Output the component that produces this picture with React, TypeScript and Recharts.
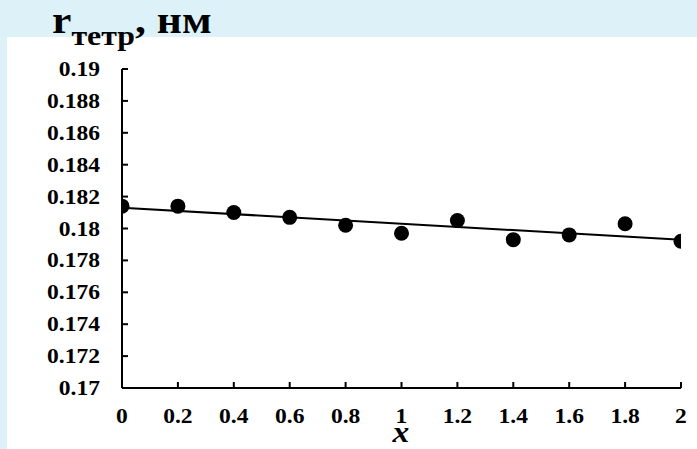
import React from 'react'
import { ComposedChart, Scatter, XAxis, YAxis, ReferenceLine } from 'recharts'

// composition x and tetrahedral radius (nm)
const xValues = [0, 0.2, 0.4, 0.6, 0.8, 1.0, 1.2, 1.4, 1.6, 1.8, 2.0]
const rTetr = [0.1814, 0.1814, 0.181, 0.1807, 0.1802, 0.1797, 0.1805, 0.1793, 0.1796, 0.1803, 0.1792]

const xTicks = [0, 0.2, 0.4, 0.6, 0.8, 1, 1.2, 1.4, 1.6, 1.8, 2]
const xTickLabels = ['0', '0.2', '0.4', '0.6', '0.8', '1', '1.2', '1.4', '1.6', '1.8', '2']
const yTicks = [0.17, 0.172, 0.174, 0.176, 0.178, 0.18, 0.182, 0.184, 0.186, 0.188, 0.19]
const yTickLabels = ['0.17', '0.172', '0.174', '0.176', '0.178', '0.18', '0.182', '0.184', '0.186', '0.188', '0.19']

const points = xValues.map((x, i) => ({ x, r: rTetr[i] }))

// least-squares linear trend through the points
const n = xValues.length
const mx = xValues.reduce((a, b) => a + b, 0) / n
const my = rTetr.reduce((a, b) => a + b, 0) / n
let sxy = 0
let sxx = 0
xValues.forEach((x, i) => {
  sxy += (x - mx) * (rTetr[i] - my)
  sxx += (x - mx) * (x - mx)
})
const slope = sxy / sxx
const intercept = my - slope * mx
const trend = (x: number) => intercept + slope * x

const FONT = "'Liberation Serif', 'Times New Roman', serif"

const XTick = (props: any) => {
  const { x, y, payload } = props
  const label = xTickLabels[xTicks.indexOf(payload.value)] ?? String(payload.value)
  return (
    <text
      transform={`translate(${x},${y + 15}) scale(1.07,1)`}
      textAnchor="middle"
      fontFamily={FONT}
      fontWeight="bold"
      fontSize={22}
      fill="#000"
    >
      {label}
    </text>
  )
}

const YTick = (props: any) => {
  const { x, y, payload } = props
  const label = yTickLabels[yTicks.indexOf(payload.value)] ?? String(payload.value)
  return (
    <text
      transform={`translate(${x},${y + 7}) scale(1.07,1)`}
      textAnchor="end"
      fontFamily={FONT}
      fontWeight="bold"
      fontSize={22}
      fill="#000"
    >
      {label}
    </text>
  )
}

export default function App() {
  return (
    <div
      style={{
        position: 'fixed',
        left: 0,
        top: 0,
        width: 697,
        height: 449,
        background: '#dcf2f8',
        overflow: 'hidden',
      }}
    >
      <div style={{ position: 'absolute', left: 7, top: 37, right: 0, bottom: 0, background: '#ffffff' }} />
      <ComposedChart
        width={697}
        height={449}
        data={points}
        margin={{ top: 69, right: 16, bottom: 0, left: 0 }}
        style={{ position: 'absolute', left: 0, top: 0 }}
      >
        <XAxis
          type="number"
          dataKey="x"
          domain={[0, 2]}
          ticks={xTicks}
          height={61}
          tickSize={-6}
          tickMargin={26}
          stroke="#000"
          strokeWidth={2}
          tick={<XTick />}
          allowDataOverflow
        />
        <YAxis
          type="number"
          dataKey="r"
          domain={[0.17, 0.19]}
          ticks={yTicks}
          width={122}
          tickSize={-6}
          tickMargin={28}
          stroke="#000"
          strokeWidth={2}
          tick={<YTick />}
          allowDataOverflow
        />
        <ReferenceLine
          segment={[
            { x: 0, y: trend(0) },
            { x: 2, y: trend(2) },
          ]}
          stroke="#000"
          strokeWidth={2}
        />
        <Scatter
          dataKey="r"
          isAnimationActive={false}
          shape={(p: any) => <circle cx={p.cx} cy={p.cy} r={7.5} fill="#000" />}
        />
      </ComposedChart>
      <svg width={697} height={449} style={{ position: 'absolute', left: 0, top: 0, pointerEvents: 'none' }}>
        <text transform="translate(52,33) scale(1.18,1)" fontFamily={FONT} fontWeight="bold" fill="#000">
          <tspan fontSize={37}>r</tspan>
          <tspan fontSize={27} dy={12}>тетр</tspan>
          <tspan fontSize={37} dy={-12}>, нм</tspan>
        </text>
        <text
          transform="translate(401,442) scale(1.12,1)"
          textAnchor="middle"
          fontFamily={FONT}
          fontWeight="bold"
          fontStyle="italic"
          fontSize={30}
          fill="#000"
        >
          x
        </text>
      </svg>
    </div>
  )
}
